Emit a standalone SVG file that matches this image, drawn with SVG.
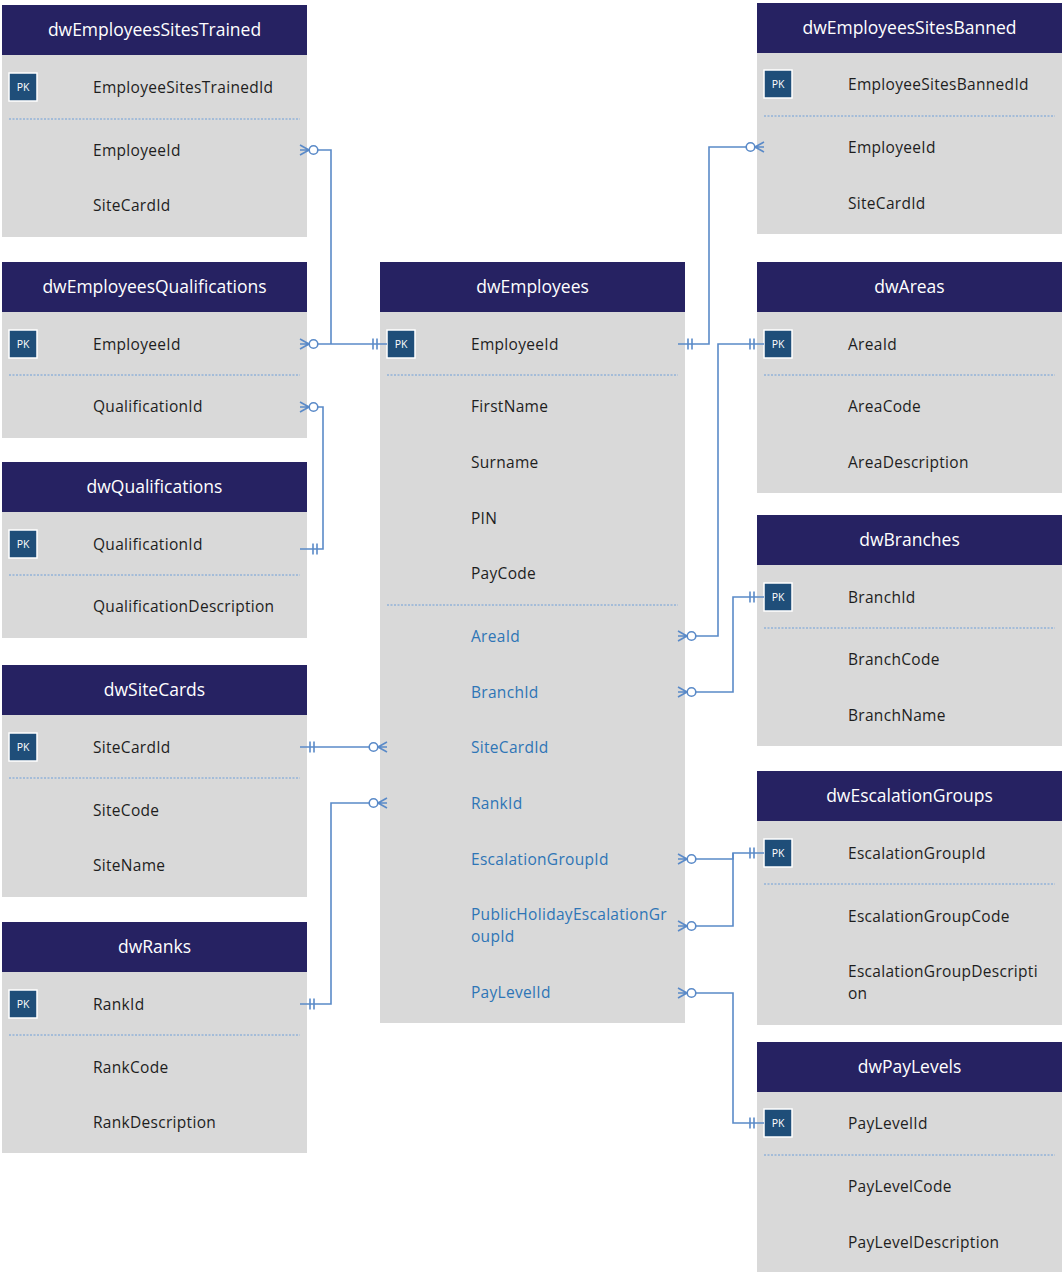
<svg xmlns="http://www.w3.org/2000/svg" xmlns:xlink="http://www.w3.org/1999/xlink" width="1064" height="1275" viewBox="0 0 1064 1275">
<style>
.hd{fill:#262262}
.bd{fill:#d9d9d9}
.ht{font-family:"Open Sans","Liberation Sans",sans-serif;font-size:17.5px;fill:#ffffff;text-anchor:middle}
.t{font-family:"Open Sans","Liberation Sans",sans-serif;font-size:15.5px;letter-spacing:0.3px;fill:#1e1e1e}
.fk{fill:#2e75b6}
.pk{fill:#1f4e79;stroke:#ffffff;stroke-width:1.5}
.pkt{font-family:"Open Sans","Liberation Sans",sans-serif;font-size:10.5px;fill:#ffffff;text-anchor:middle}
.dv{stroke:#6f9fd8;stroke-width:1;stroke-dasharray:2 1.5;fill:none}
.cn{stroke:#5a8ac8;stroke-width:1.6;fill:none}
.cc{stroke:#5a8ac8;stroke-width:1.6;fill:#ffffff}
</style>
<defs>
<g id="many0"><path class="cn" d="M0,-5 L9,0 M0,5 L9,0 M0,0 L9,0"/><circle class="cc" cx="13.5" cy="0" r="4.3"/></g>
<g id="one1"><path class="cn" d="M3,-5.5 V5.5 M7,-5.5 V5.5"/></g>
<g id="pkb"><rect class="pk" x="0" y="-14" width="28" height="28"/><text class="pkt" x="14" y="4">PK</text></g>
</defs>
<rect x="0" y="0" width="1064" height="1275" fill="#ffffff"/>

<g id="dwEmployeesSitesTrained" transform="translate(2,5)">
<rect class="bd" x="0" y="0" width="305" height="232"/>
<rect class="hd" x="0" y="0" width="305" height="50"/>
<text class="ht" x="152.5" y="31">dwEmployeesSitesTrained</text>
<use xlink:href="#pkb" x="7" y="82"/>
<text class="t" x="91" y="87.5">EmployeeSitesTrainedId</text>
<line class="dv" x1="7" y1="114" x2="298" y2="114"/>
<text class="t" x="91" y="150.5">EmployeeId</text>
<text class="t" x="91" y="205.5">SiteCardId</text>
</g>

<g id="dwEmployeesQualifications" transform="translate(2,262)">
<rect class="bd" x="0" y="0" width="305" height="176"/>
<rect class="hd" x="0" y="0" width="305" height="50"/>
<text class="ht" x="152.5" y="31">dwEmployeesQualifications</text>
<use xlink:href="#pkb" x="7" y="82"/>
<text class="t" x="91" y="87.5">EmployeeId</text>
<line class="dv" x1="7" y1="113" x2="298" y2="113"/>
<text class="t" x="91" y="149.5">QualificationId</text>
</g>

<g id="dwQualifications" transform="translate(2,462)">
<rect class="bd" x="0" y="0" width="305" height="176"/>
<rect class="hd" x="0" y="0" width="305" height="50"/>
<text class="ht" x="152.5" y="31">dwQualifications</text>
<use xlink:href="#pkb" x="7" y="82"/>
<text class="t" x="91" y="87.5">QualificationId</text>
<line class="dv" x1="7" y1="113" x2="298" y2="113"/>
<text class="t" x="91" y="149.5">QualificationDescription</text>
</g>

<g id="dwSiteCards" transform="translate(2,665)">
<rect class="bd" x="0" y="0" width="305" height="232"/>
<rect class="hd" x="0" y="0" width="305" height="50"/>
<text class="ht" x="152.5" y="31">dwSiteCards</text>
<use xlink:href="#pkb" x="7" y="82"/>
<text class="t" x="91" y="87.5">SiteCardId</text>
<line class="dv" x1="7" y1="113" x2="298" y2="113"/>
<text class="t" x="91" y="150.5">SiteCode</text>
<text class="t" x="91" y="205.5">SiteName</text>
</g>

<g id="dwRanks" transform="translate(2,922)">
<rect class="bd" x="0" y="0" width="305" height="231"/>
<rect class="hd" x="0" y="0" width="305" height="50"/>
<text class="ht" x="152.5" y="31">dwRanks</text>
<use xlink:href="#pkb" x="7" y="82"/>
<text class="t" x="91" y="87.5">RankId</text>
<line class="dv" x1="7" y1="113" x2="298" y2="113"/>
<text class="t" x="91" y="150.5">RankCode</text>
<text class="t" x="91" y="205.5">RankDescription</text>
</g>

<g id="dwEmployees" transform="translate(380,262)">
<rect class="bd" x="0" y="0" width="305" height="761"/>
<rect class="hd" x="0" y="0" width="305" height="50"/>
<text class="ht" x="152.5" y="31">dwEmployees</text>
<use xlink:href="#pkb" x="7" y="82"/>
<text class="t" x="91" y="87.5">EmployeeId</text>
<line class="dv" x1="7" y1="113" x2="298" y2="113"/>
<text class="t" x="91" y="149.5">FirstName</text>
<text class="t" x="91" y="205.5">Surname</text>
<text class="t" x="91" y="261.5">PIN</text>
<text class="t" x="91" y="316.5">PayCode</text>
<line class="dv" x1="7" y1="343" x2="298" y2="343"/>
<text class="t fk" x="91" y="379.5">AreaId</text>
<text class="t fk" x="91" y="435.5">BranchId</text>
<text class="t fk" x="91" y="490.5">SiteCardId</text>
<text class="t fk" x="91" y="546.5">RankId</text>
<text class="t fk" x="91" y="602.5">EscalationGroupId</text>
<text class="t fk" x="91" y="657.5">PublicHolidayEscalationGr<tspan x="91" y="679.5">oupId</tspan></text>
<text class="t fk" x="91" y="735.5">PayLevelId</text>
</g>

<g id="dwEmployeesSitesBanned" transform="translate(757,3)">
<rect class="bd" x="0" y="0" width="305" height="231"/>
<rect class="hd" x="0" y="0" width="305" height="50"/>
<text class="ht" x="152.5" y="31">dwEmployeesSitesBanned</text>
<use xlink:href="#pkb" x="7" y="81"/>
<text class="t" x="91" y="86.5">EmployeeSitesBannedId</text>
<line class="dv" x1="7" y1="113" x2="298" y2="113"/>
<text class="t" x="91" y="149.5">EmployeeId</text>
<text class="t" x="91" y="205.5">SiteCardId</text>
</g>

<g id="dwAreas" transform="translate(757,262)">
<rect class="bd" x="0" y="0" width="305" height="231"/>
<rect class="hd" x="0" y="0" width="305" height="50"/>
<text class="ht" x="152.5" y="31">dwAreas</text>
<use xlink:href="#pkb" x="7" y="82"/>
<text class="t" x="91" y="87.5">AreaId</text>
<line class="dv" x1="7" y1="113" x2="298" y2="113"/>
<text class="t" x="91" y="149.5">AreaCode</text>
<text class="t" x="91" y="205.5">AreaDescription</text>
</g>

<g id="dwBranches" transform="translate(757,515)">
<rect class="bd" x="0" y="0" width="305" height="231"/>
<rect class="hd" x="0" y="0" width="305" height="50"/>
<text class="ht" x="152.5" y="31">dwBranches</text>
<use xlink:href="#pkb" x="7" y="82"/>
<text class="t" x="91" y="87.5">BranchId</text>
<line class="dv" x1="7" y1="113" x2="298" y2="113"/>
<text class="t" x="91" y="149.5">BranchCode</text>
<text class="t" x="91" y="205.5">BranchName</text>
</g>

<g id="dwEscalationGroups" transform="translate(757,771)">
<rect class="bd" x="0" y="0" width="305" height="254"/>
<rect class="hd" x="0" y="0" width="305" height="50"/>
<text class="ht" x="152.5" y="31">dwEscalationGroups</text>
<use xlink:href="#pkb" x="7" y="82"/>
<text class="t" x="91" y="87.5">EscalationGroupId</text>
<line class="dv" x1="7" y1="113" x2="298" y2="113"/>
<text class="t" x="91" y="150.5">EscalationGroupCode</text>
<text class="t" x="91" y="205.5">EscalationGroupDescripti<tspan x="91" y="227.5">on</tspan></text>
</g>

<g id="dwPayLevels" transform="translate(757,1042)">
<rect class="bd" x="0" y="0" width="305" height="230"/>
<rect class="hd" x="0" y="0" width="305" height="50"/>
<text class="ht" x="152.5" y="31">dwPayLevels</text>
<use xlink:href="#pkb" x="7" y="81"/>
<text class="t" x="91" y="86.5">PayLevelId</text>
<line class="dv" x1="7" y1="113" x2="298" y2="113"/>
<text class="t" x="91" y="149.5">PayLevelCode</text>
<text class="t" x="91" y="205.5">PayLevelDescription</text>
</g>

<g id="connectors">
<path class="cn" d="M317.8,150 H331 V344"/>
<use xlink:href="#many0" transform="translate(300,150)"/>
<path class="cn" d="M317.8,344 H387"/>
<use xlink:href="#many0" transform="translate(300,344)"/>
<use xlink:href="#one1" transform="translate(380,344) scale(-1,1)"/>

<path class="cn" d="M317.8,407 H323 V549 H300"/>
<use xlink:href="#many0" transform="translate(300,407)"/>
<use xlink:href="#one1" transform="translate(310,549)"/>

<path class="cn" d="M300,747 H369.2"/>
<use xlink:href="#one1" transform="translate(307,747)"/>
<use xlink:href="#many0" transform="translate(387,747) scale(-1,1)"/>

<path class="cn" d="M300,1004 H331 V803 H369.2"/>
<use xlink:href="#one1" transform="translate(307,1004)"/>
<use xlink:href="#many0" transform="translate(387,803) scale(-1,1)"/>

<path class="cn" d="M678,344 H709 V147 H746.2"/>
<use xlink:href="#one1" transform="translate(685,344)"/>
<use xlink:href="#many0" transform="translate(764,147) scale(-1,1)"/>

<path class="cn" d="M695.8,636 H718 V344 H764"/>
<use xlink:href="#many0" transform="translate(678,636)"/>
<use xlink:href="#one1" transform="translate(757,344) scale(-1,1)"/>

<path class="cn" d="M695.8,692 H733 V597 H764"/>
<use xlink:href="#many0" transform="translate(678,692)"/>
<use xlink:href="#one1" transform="translate(757,597) scale(-1,1)"/>

<path class="cn" d="M695.8,859 H733 V853 H764"/>
<use xlink:href="#many0" transform="translate(678,859)"/>
<use xlink:href="#one1" transform="translate(757,853) scale(-1,1)"/>

<path class="cn" d="M695.8,926 H733 V853"/>
<use xlink:href="#many0" transform="translate(678,926)"/>

<path class="cn" d="M695.8,993 H733 V1123 H764"/>
<use xlink:href="#many0" transform="translate(678,993)"/>
<use xlink:href="#one1" transform="translate(757,1123) scale(-1,1)"/>
</g>
</svg>
